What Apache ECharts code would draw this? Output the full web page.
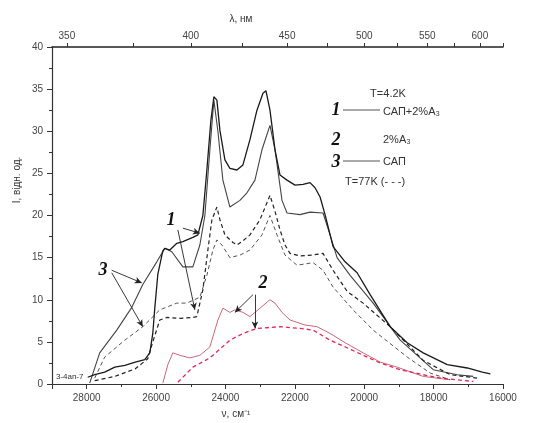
<!DOCTYPE html>
<html><head><meta charset="utf-8">
<script src="https://cdn.jsdelivr.net/npm/echarts@6/dist/echarts.min.js"></script>
<style>html,body{margin:0;padding:0;background:#fff}#c{width:533px;height:423px}</style>
</head><body><div id="c"></div>
<script>
// Wavenumber tick labels (bottom axis), wavelength labels/ticks (top axis), intensity ticks
const nuLabels = [28000, 26000, 24000, 22000, 20000, 18000, 16000];
const lamLabels = [350, 400, 450, 500, 550, 600];
const lamTicks = [350, 375, 400, 425, 450, 475, 500, 525, 550, 575, 600, 625];

// Curve 1: САП+2%A3, T=4.2K (solid)
const nu1 = [27971,27769,27480,27190,26900,26600,26326,26181,26095,26037,25950,25806,25748,25604,25402,25228,24940,24795,24651,24536,24420,24334,24247,24160,24016,23872,23670,23496,23294,23092,22919,22832,22717,22572,22428,22226,21995,21764,21562,21418,21273,21129,20898,20551,20205,19830,19253,18762,18300,17607,17029,16596,16365];
const int1 = [0.8,1.1,1.4,2.0,2.2,2.6,2.9,3.7,6.0,9.0,13.0,15.8,16.1,15.9,16.7,16.9,17.4,17.7,20.0,25.4,31.3,34.1,33.7,30.1,26.6,25.6,25.4,26.0,29.0,32.5,34.5,34.8,32.5,27.8,24.8,24.2,23.6,23.7,23.9,23.3,22.2,20.1,16.3,14.5,13.2,10.6,6.8,4.9,3.7,2.3,1.9,1.4,1.2];
// Curve 3: САП, T=4.2K (solid)
const nu3 = [27913,27625,27134,26700,26383,25979,25748,25546,25228,24940,24738,24593,24449,24334,24218,24074,23872,23583,23381,23150,22948,22717,22572,22370,22226,21851,21562,21187,20985,20783,20407,19743,18964,18011,17318,16856];
const int3 = [0.1,3.7,6.4,9.1,11.8,14.5,16.1,15.7,13.9,13.9,16.5,20.0,27.8,33.7,30.0,24.2,21.0,21.8,22.7,24.2,27.8,30.7,27.8,21.8,20.3,20.1,20.4,20.3,17.7,15.0,12.9,9.6,5.2,1.7,1.1,0.9];
// Curve 1, T=77K (dashed)
const nu1d = [27769,27190,26600,26239,26095,25892,25690,25300,24940,24824,24651,24507,24391,24247,24160,24016,23785,23670,23496,23294,23005,22717,22572,22428,22284,22139,21851,21500,21187,20898,20494,20032,19253,18300,17520,16741];
const int1d = [0.4,0.9,1.8,3.0,5.0,7.6,7.9,7.8,7.9,8.0,11.2,15.9,19.5,21.0,19.5,17.7,16.8,16.5,17.0,17.7,19.5,22.4,20.5,18.3,16.5,15.5,15.2,15.3,15.5,13.5,11.0,9.6,6.8,2.8,1.1,0.7];
// Curve 3, T=77K (dashed)
const nu3d = [27769,27480,26903,26383,25892,25402,25113,24738,24536,24362,24247,24103,23872,23583,23294,22948,22717,22515,22284,21937,21475,21187,20898,20320,19743,18762,18098,17520];
const int3d = [0.7,3.2,5.2,6.8,8.8,9.6,9.6,10.3,12.9,15.9,17.1,16.5,15.0,15.3,15.9,17.7,20.0,17.7,15.3,14.1,14.4,13.5,11.5,8.8,6.4,3.2,1.3,0.5];
// Curve 2: 2%A3, T=4.2K (solid, red)
const nu2 = [25806,25661,25517,25315,25026,24738,24449,24218,24074,23872,23727,23496,23294,23005,22717,22572,22370,22139,21706,21360,20985,20551,20032,19541,19050,18300,17520];
const int2 = [0.1,2.3,3.7,3.4,3.1,3.4,4.4,7.6,9.0,8.5,8.8,8.5,8.0,9.0,10.0,9.6,8.5,7.6,7.0,6.8,6.0,4.9,3.7,2.6,2.0,0.9,0.5];
// Curve 2, T=77K (dashed, red)
const nu2d = [25373,24940,24449,23872,23496,23092,22428,21851,21475,20985,20494,19974,19541,18964,18300,17809,16856];
const int2d = [0.2,2.0,3.1,5.2,6.0,6.6,6.8,6.6,6.4,5.2,4.3,3.3,2.5,1.7,1.1,0.7,0.3];

// annotation arrows (data coordinates: [nu, I] -> [nu, I])
const arrows = [
  [[27278,13.5],[26412,12.0]],
  [[27278,13.2],[26383,6.8]],
  [[25228,18.5],[24738,17.9]],
  [[25373,18.3],[24882,8.8]],
  [[23208,10.6],[23727,8.5]],
  [[23150,10.6],[23150,6.6]]
];

const zip = (a,b) => a.map((v,i)=>[v,b[i]]);
const chart = echarts.init(document.getElementById('c'));
const axisCol = '#333';
const lblStyle = {color:'#444', fontSize:10, fontFamily:'Liberation Sans, Arial, sans-serif'};

function lineSeries(name, xs, ys, color, width, dashed, z){
  return {name, type:'line', data: zip(xs, ys), showSymbol:false, symbol:'none', z: z||2,
    lineStyle:{color, width, type: dashed ? [4,3] : 'solid'}, xAxisIndex:0, yAxisIndex:0, animation:false};
}

const s1 = lineSeries('1', nu1, int1, '#1a1a1a', 1.3, false, 4);
s1.markLine = {silent:true, symbol:['none','arrow'], symbolSize:[5,7], animation:false,
  lineStyle:{color:'#222', width:0.9, type:'solid'}, label:{show:false},
  data: arrows.map(a=>[{coord:a[0]},{coord:a[1]}])};

const serif = 'Liberation Serif, Times New Roman, serif';
const sans = 'Liberation Sans, Arial, sans-serif';
function numTxt(t,x,y){return {type:'text', x, y, style:{text:t, font:'italic bold 18px '+serif, fill:'#111', textAlign:'center', textVerticalAlign:'middle'}, z:10};}
function txt(t,x,y,size,align){return {type:'text', x, y, style:{text:t, font: (size||11)+'px '+sans, fill:'#333', textAlign:align||'left', textVerticalAlign:'middle'}, z:10};}
function seg(x1,y1,x2,y2){return {type:'line', shape:{x1,y1,x2,y2}, style:{stroke:'#555', lineWidth:1}, z:10};}

chart.setOption({
  animation:false,
  backgroundColor:'#fff',
  grid:{left:52, right:30, top:47, bottom:39, containLabel:false},
  xAxis:[
    {type:'value', min:16000, max:29000, inverse:true, interval:2000, position:'bottom',
     axisLine:{show:true, onZero:false, lineStyle:{color:axisCol, width:1}},
     axisTick:{show:true, length:5, lineStyle:{color:axisCol}},
     minorTick:{show:true, splitNumber:2, length:3, lineStyle:{color:axisCol}},
     splitLine:{show:false}, minorSplitLine:{show:false},
     axisLabel:Object.assign({customValues: nuLabels, formatter: v=>String(v), margin:9}, lblStyle)},
    {type:'value', min:16000, max:29000, inverse:true, position:'top',
     axisLine:{show:true, onZero:false, lineStyle:{color:'#222', width:1.5}},
     axisTick:{show:true, customValues: lamTicks.map(l=>1e7/l), length:4, lineStyle:{color:axisCol}},
     splitLine:{show:false},
     axisLabel:Object.assign({customValues: lamLabels.map(l=>1e7/l), formatter: v=>String(Math.round(1e7/v)), margin:6}, lblStyle)}
  ],
  yAxis:{type:'value', min:0, max:40, interval:5,
     axisLine:{show:true, onZero:false, lineStyle:{color:axisCol, width:1.2}},
     axisTick:{show:true, length:5, lineStyle:{color:axisCol}},
     minorTick:{show:true, splitNumber:2, length:3, lineStyle:{color:axisCol}},
     splitLine:{show:false}, minorSplitLine:{show:false},
     axisLabel:Object.assign({margin:9}, lblStyle)},
  series:[
    s1,
    lineSeries('3', nu3, int3, '#444', 1.1, false, 3),
    lineSeries('1d', nu1d, int1d, '#222', 1.2, true, 3),
    lineSeries('3d', nu3d, int3d, '#555', 1.0, true, 3),
    lineSeries('2', nu2, int2, '#c86a78', 1.0, false, 2),
    lineSeries('2d', nu2d, int2d, '#e8245e', 1.3, true, 2)
  ],
  graphic:[
    txt('λ, нм', 241, 19, 10, 'center'),
    txt('ν, см⁻¹', 236, 414, 10, 'center'),
    {type:'text', x:17, y:180, rotation:Math.PI/2, style:{text:'I, відн. од.', font:'10px '+sans, fill:'#333', textAlign:'center', textVerticalAlign:'middle'}, z:10},
    txt('3-4ап-7', 56, 377, 8, 'left'),
    numTxt('1', 171, 220), numTxt('3', 103, 270), numTxt('2', 263, 283),
    txt('T=4.2K', 388, 94, 11, 'center'),
    numTxt('1', 336, 110), seg(343,110,380,110), txt('САП+2%A₃', 383, 112, 11),
    numTxt('2', 336, 140), txt('2%A₃', 383, 140, 11),
    numTxt('3', 336, 162), seg(343,161,380,161), txt('САП', 383, 162, 11),
    txt('T=77K (- - -)', 345, 182, 11)
  ]
});
</script></body></html>
